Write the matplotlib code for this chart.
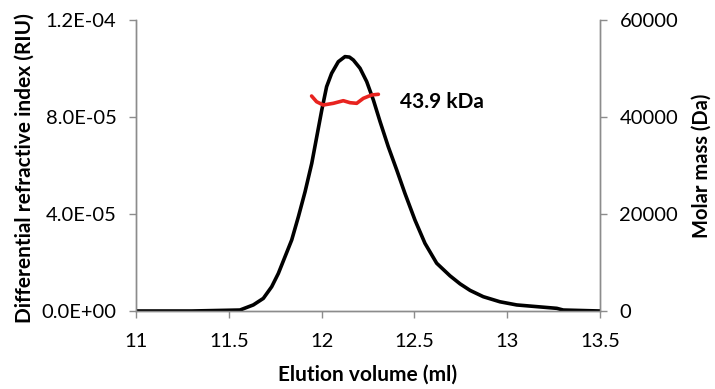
import matplotlib
matplotlib.use("Agg")
import matplotlib.pyplot as plt

# Refractive index trace
elution_ml = [11.0, 11.3, 11.56, 11.632, 11.686, 11.731, 11.767, 11.803, 11.839, 11.875, 11.911,
              11.947, 11.974, 12.001, 12.027, 12.054, 12.090, 12.126, 12.150, 12.171, 12.207,
              12.243, 12.279, 12.315, 12.359, 12.405, 12.449, 12.503, 12.557, 12.620, 12.692,
              12.746, 12.800, 12.871, 12.961, 13.051, 13.159, 13.267, 13.302, 13.5]
riu = [0.0, 0.0, 0.04e-5, 0.25e-5, 0.52e-5, 1.0e-5, 1.55e-5, 2.24e-5, 2.93e-5, 3.89e-5, 4.92e-5,
       6.09e-5, 7.19e-5, 8.29e-5, 9.25e-5, 9.80e-5, 10.28e-5, 10.49e-5, 10.47e-5, 10.35e-5, 10.01e-5,
       9.46e-5, 8.70e-5, 7.81e-5, 6.78e-5, 5.81e-5, 4.85e-5, 3.75e-5, 2.79e-5, 1.97e-5, 1.45e-5,
       1.12e-5, 0.85e-5, 0.59e-5, 0.38e-5, 0.25e-5, 0.18e-5, 0.11e-5, 0.04e-5, 0.0]

# Molar mass trace
mass_ml = [11.946, 11.973, 12.009, 12.063, 12.117, 12.153, 12.189, 12.225, 12.270, 12.306]
mass_da = [44330, 43150, 42470, 42820, 43360, 42950, 42820, 43850, 44540, 44680]

x_ticks = [11, 11.5, 12, 12.5, 13, 13.5]
x_ticklabels = ["11", "11.5", "12", "12.5", "13", "13.5"]
y1_ticks = [0, 4e-5, 8e-5, 1.2e-4]
y1_ticklabels = ["0.0E+00", "4.0E-05", "8.0E-05", "1.2E-04"]
y2_ticks = [0, 20000, 40000, 60000]
y2_ticklabels = ["0", "20000", "40000", "60000"]
annotation = "43.9 kDa"

plt.rcParams['font.family'] = ['Lato', 'DejaVu Sans']

fig = plt.figure(figsize=(7.15, 3.89), dpi=100)
ax = fig.add_axes([136/715, 78/389, (600-136)/715, (311-20)/389])
ax2 = ax.twinx()

ax.plot(elution_ml, riu, color='black', lw=2.6, solid_capstyle='round', solid_joinstyle='round', zorder=3)
ax2.plot(mass_ml, mass_da, color='#e8231f', lw=2.6, solid_capstyle='round', solid_joinstyle='round')

ax.set_xlim(11, 13.5)
ax.set_ylim(0, 1.2e-4)
ax2.set_ylim(0, 60000)

ax.set_xticks(x_ticks)
ax.set_xticklabels(x_ticklabels)
ax.set_yticks(y1_ticks)
ax.set_yticklabels(y1_ticklabels)
ax2.set_yticks(y2_ticks)
ax2.set_yticklabels(y2_ticklabels)

gray = '#8c8c8c'
for a in (ax, ax2):
    a.spines['top'].set_visible(False)
    for s in ('left', 'right', 'bottom'):
        a.spines[s].set_color(gray)
        a.spines[s].set_linewidth(1.0)
    a.tick_params(colors=gray, labelcolor='black', labelsize=14.5, length=5, width=1, direction='out')
ax.tick_params(axis='x', pad=11)
ax.tick_params(axis='y', pad=9)
ax2.tick_params(axis='y', pad=9)

ax.set_xlabel("Elution volume (ml)", fontsize=15, fontweight='bold')
ax.set_ylabel("Differential refractive index (RIU)", fontsize=15, fontweight='bold')
ax2.set_ylabel("Molar mass (Da)", fontsize=14.5, fontweight='bold')
ax.xaxis.set_label_coords(0.5, -0.185)
ax.yaxis.set_label_coords(-0.218, 0.49)
ax2.yaxis.set_label_coords(1.198, 0.5)

ax2.text(12.42, 43000, annotation, fontsize=15, fontweight='bold', va='center', ha='left')

fig.savefig("out.png", dpi=100)
